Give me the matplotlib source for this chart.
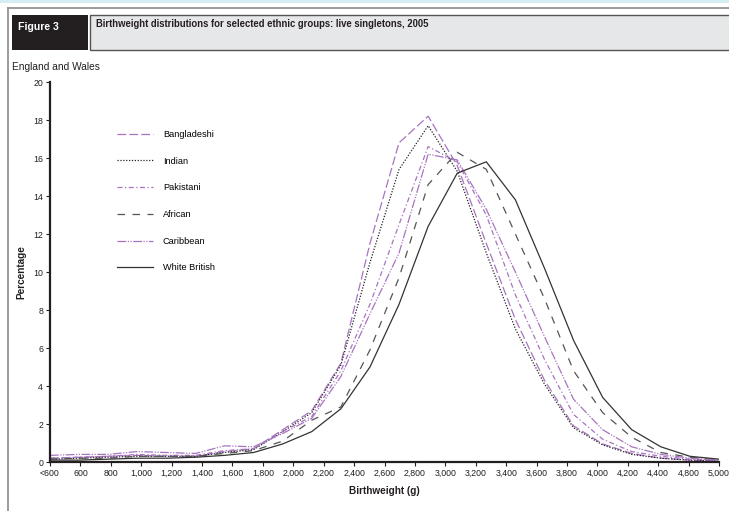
import numpy as np
import matplotlib
matplotlib.use('Agg')
import matplotlib.pyplot as plt
from matplotlib.patches import Rectangle
from matplotlib.lines import Line2D

plt.rcParams['font.family'] = ['Liberation Sans', 'DejaVu Sans']

# x labels as printed on the original (note: 4,600 is missing there)
tick_labels = ['<600', '600', '800', '1,000', '1,200', '1,400', '1,600', '1,800',
               '2,000', '2,200', '2,400', '2,600', '2,800', '3,000', '3,200',
               '3,400', '3,600', '3,800', '4,000', '4,200', '4,400', '4,800', '5,000']

# 24 weight bands plotted (percentage of live singletons)
bangladeshi = [0.2, 0.25, 0.3, 0.35, 0.3, 0.3, 0.55, 0.7, 1.7, 2.7, 5.2, 11.5,
               16.8, 18.2, 15.6, 11.5, 7.5, 4.3, 1.9, 0.95, 0.45, 0.2, 0.1, 0.05]
indian = [0.15, 0.2, 0.25, 0.3, 0.3, 0.3, 0.5, 0.65, 1.6, 2.6, 5.1, 10.5,
          15.4, 17.7, 15.3, 11.0, 7.0, 4.1, 1.8, 0.9, 0.4, 0.2, 0.1, 0.05]
pakistani = [0.2, 0.25, 0.3, 0.4, 0.35, 0.35, 0.6, 0.7, 1.6, 2.4, 4.8, 8.3,
             12.5, 16.6, 15.8, 13.0, 8.8, 5.4, 2.5, 1.2, 0.55, 0.3, 0.15, 0.1]
african = [0.15, 0.2, 0.2, 0.3, 0.3, 0.3, 0.45, 0.6, 1.1, 2.2, 2.9, 5.9,
           9.7, 14.6, 16.3, 15.4, 12.0, 8.6, 4.8, 2.6, 1.3, 0.5, 0.25, 0.1]
caribbean = [0.35, 0.4, 0.4, 0.55, 0.5, 0.45, 0.85, 0.8, 1.5, 2.3, 4.5, 7.8,
             11.0, 16.2, 15.9, 13.3, 10.0, 6.6, 3.3, 1.7, 0.8, 0.4, 0.2, 0.1]
white_british = [0.1, 0.1, 0.15, 0.2, 0.2, 0.25, 0.35, 0.5, 0.95, 1.6, 2.8, 5.0,
                 8.3, 12.4, 15.2, 15.8, 13.8, 10.2, 6.4, 3.4, 1.7, 0.8, 0.3, 0.15]

W, H = 729, 511
purple = '#a874c0'
ink = '#231f20'


def fx(x):
    return x / W


def fy(y):
    return 1 - y / H


fig = plt.figure(figsize=(W / 100, H / 100), dpi=100)

# header decorations
fig.add_artist(Rectangle((0, fy(3)), 1, 3 / H, transform=fig.transFigure,
                         facecolor='#d5eef3', edgecolor='none'))
fig.add_artist(Line2D([fx(8), fx(8)], [fy(8), 0], transform=fig.transFigure,
                      color='#8a8a8a', lw=1.2))
fig.add_artist(Line2D([fx(8), 1], [fy(8), fy(8)], transform=fig.transFigure,
                      color='#8a8a8a', lw=1.2))
fig.add_artist(Rectangle((fx(12), fy(50)), 76 / W, 35 / H, transform=fig.transFigure,
                         facecolor=ink, edgecolor='none'))
fig.add_artist(Rectangle((fx(90), fy(50)), 645 / W, 35 / H, transform=fig.transFigure,
                         facecolor='#e6e7e8', edgecolor='#555555', lw=1))
fig.text(fx(18), fy(27), 'Figure 3', color='white', fontsize=7.6, fontweight='bold',
         va='center', ha='left')
fig.text(fx(96), fy(24), 'Birthweight distributions for selected ethnic groups: live singletons, 2005',
         color=ink, fontsize=6.85, fontweight='bold', va='center', ha='left')
fig.text(fx(12), fy(67), 'England and Wales', fontsize=7.3, va='center', ha='left',
         color=ink)

ax = fig.add_axes([fx(50), fy(462), (719 - 50) / W, (462 - 82) / H])
x = np.arange(len(white_british))

ax.plot(x, bangladeshi, color=purple, lw=0.9, dashes=(7, 2.5), label='Bangladeshi')
ax.plot(x, indian, color='#222222', lw=0.9, dashes=(1, 1.3), label='Indian')
ax.plot(x, pakistani, color=purple, lw=0.9, dashes=(4, 2, 1, 2), label='Pakistani')
ax.plot(x, african, color='#555555', lw=0.9, dashes=(6, 6), label='African')
ax.plot(x, caribbean, color=purple, lw=0.9, dashes=(7, 1.2, 1, 1.2, 1, 1.2), label='Caribbean')
ax.plot(x, white_british, color='#333333', lw=0.9, label='White British')

ax.set_xlim(0, len(white_british) - 1)
ax.set_ylim(0, 20)
ax.set_yticks(np.arange(0, 21, 2))
ax.set_xticks(np.linspace(0, len(white_british) - 1, len(tick_labels)))
ax.set_xticklabels(tick_labels)
ax.tick_params(axis='both', labelsize=6.3, length=3, width=0.8, color=ink,
               labelcolor=ink, pad=2)
for s in ['top', 'right']:
    ax.spines[s].set_visible(False)
for s in ['left', 'bottom']:
    ax.spines[s].set_linewidth(1.6)
    ax.spines[s].set_color(ink)

ax.set_xlabel('Birthweight (g)', fontsize=7.2, fontweight='bold', labelpad=6, color=ink)
fig.text(fx(21), fy(272), 'Percentage', rotation=90, fontsize=7.2, fontweight='bold',
         va='center', ha='center', color=ink)

ax.legend(loc='upper left', bbox_to_anchor=(fx(117), fy(130)),
          bbox_transform=fig.transFigure, frameon=False, fontsize=6.6,
          handlelength=3.9, handletextpad=1.1, labelspacing=1.93, borderpad=0,
          borderaxespad=0)

fig.savefig('out.png', dpi=100)
